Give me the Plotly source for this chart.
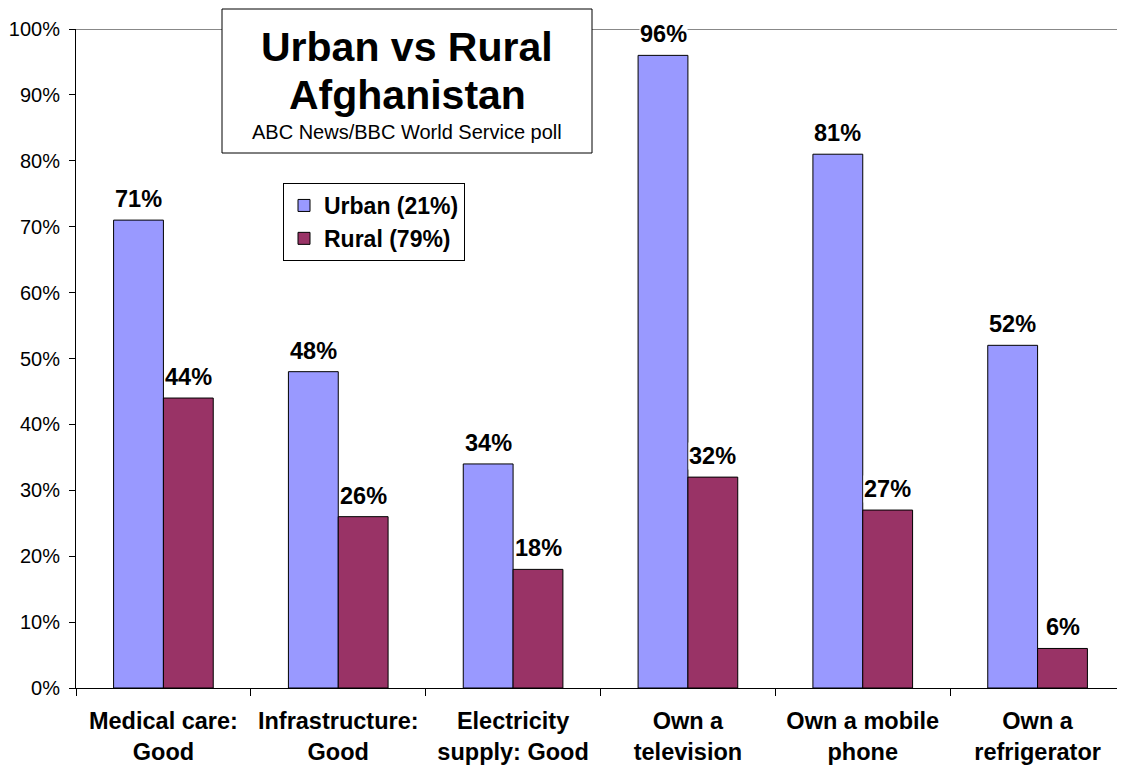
import plotly.graph_objects as go

categories = ["Medical care:<br>Good", "Infrastructure:<br>Good", "Electricity<br>supply: Good",
              "Own a<br>television", "Own a mobile<br>phone", "Own a<br>refrigerator"]
urban = [71, 48, 34, 96, 81, 52]
rural = [44, 26, 18, 32, 27, 6]
series_names = ["Urban (21%)", "Rural (79%)"]
yticks = list(range(0, 101, 10))

# page has an 8px body margin; figure is drawn 8px in from the top-left corner
OFF = 8
W, H = 1125 - OFF, 765 - OFF
L, R, T = 76 - OFF, 0, 29 - OFF
B = H - (688 - OFF)
pw, ph = W - L - R, H - T - B

def px_x(x):
    return (x - OFF - L) / pw

def px_y(y):
    return (H - B - (y - OFF)) / ph

FONT = "Arial, Liberation Sans, sans-serif"
BARGAP = 0.43
series = [(series_names[0], urban, "#9999FF"), (series_names[1], rural, "#993366")]

fig = go.Figure()
for name, vals, col in series:
    fig.add_trace(go.Bar(
        x=categories, y=vals, name=name,
        marker=dict(color=col, line=dict(color="black", width=1)),
    ))

# value labels (white background so the 100% gridline is hidden behind them)
bw = (1 - BARGAP) / len(series)
for k, (name, vals, col) in enumerate(series):
    off = (k - (len(series) - 1) / 2) * bw
    for i, v in enumerate(vals):
        fig.add_annotation(x=i + off, y=v, xref="x", yref="y",
                           text=f"<b>{v}%</b>", showarrow=False,
                           xanchor="center", yanchor="bottom", yshift=7,
                           bgcolor="white", borderpad=0,
                           font=dict(family=FONT, size=23.5, color="black"))

fig.update_layout(
    width=W, height=H,
    margin=dict(l=L, r=R, t=T, b=B, autoexpand=False),
    paper_bgcolor="white", plot_bgcolor="white",
    barmode="group", bargap=BARGAP, bargroupgap=0,
    font=dict(family=FONT, color="black"),
    legend=dict(
        x=px_x(283), y=px_y(183), xanchor="left", yanchor="top",
        bgcolor="white", bordercolor="black", borderwidth=1,
        font=dict(size=23, weight="bold", color="black"),
        tracegroupgap=0, itemwidth=30,
    ),
    showlegend=True,
)
fig.update_xaxes(
    automargin=False,
    showline=True, linecolor="black", linewidth=1,
    ticks="outside", tickson="boundaries", ticklen=7, tickcolor="black",
    tickfont=dict(size=23.5, weight="bold", color="black"),
    ticklabelstandoff=12,
    showgrid=False,
)
fig.update_yaxes(
    automargin=False,
    range=[0, 100], tickvals=yticks, ticktext=[f"{v}%" for v in yticks],
    showline=True, linecolor="black", linewidth=1,
    ticks="outside", ticklen=6, tickcolor="black",
    tickfont=dict(size=20, color="black"),
    ticklabelstandoff=5,
    showgrid=False, zeroline=False,
)
# top gridline at 100%
fig.add_shape(type="line", xref="paper", yref="y", x0=0, x1=1, y0=100, y1=100,
              line=dict(color="#888888", width=2), layer="below")
# title box
fig.add_shape(type="rect", xref="paper", yref="paper",
              x0=px_x(222), x1=px_x(592), y0=px_y(153), y1=px_y(9),
              fillcolor="white", line=dict(color="black", width=1), layer="above")
cx = px_x(407)
fig.add_annotation(xref="paper", yref="paper", x=cx, y=px_y(47), xanchor="center", yanchor="middle",
                   text="<b>Urban vs Rural</b>", showarrow=False,
                   font=dict(size=41, color="black"))
fig.add_annotation(xref="paper", yref="paper", x=cx, y=px_y(95), xanchor="center", yanchor="middle",
                   text="<b>Afghanistan</b>", showarrow=False,
                   font=dict(size=41, color="black"))
fig.add_annotation(xref="paper", yref="paper", x=cx, y=px_y(132), xanchor="center", yanchor="middle",
                   text="ABC News/BBC World Service poll", showarrow=False,
                   font=dict(size=20, color="black"))

fig.write_html("out.html")
